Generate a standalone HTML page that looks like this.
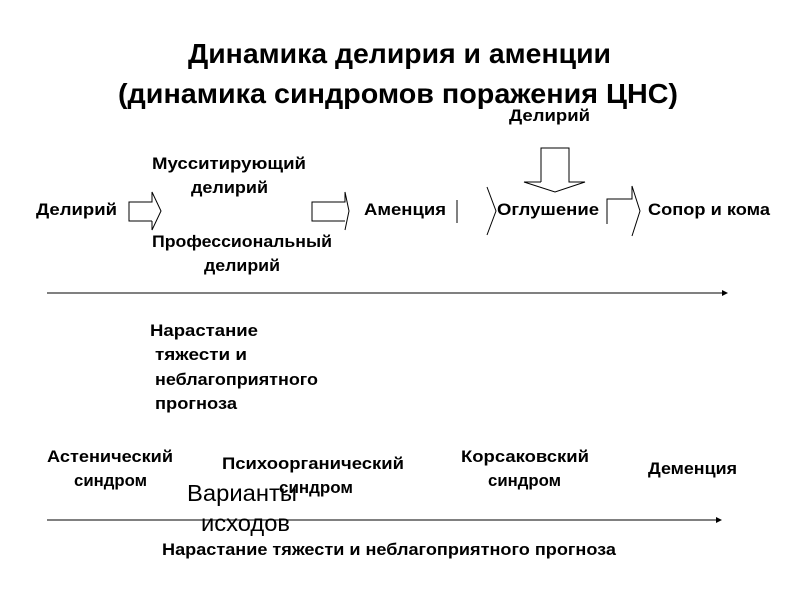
<!DOCTYPE html>
<html><head><meta charset="utf-8"><style>
html,body{margin:0;padding:0;background:#fff;}
svg{display:block;}
text{font-family:"Liberation Sans",sans-serif;font-weight:bold;fill:#000;}
.t{font-size:28px;}
.l{font-size:17px;}
.v{font-family:"Liberation Sans",sans-serif;font-weight:normal;font-size:23px;}
</style></head><body>
<svg width="800" height="600" viewBox="0 0 800 600">
<text class="t" x="188" y="63" textLength="423" lengthAdjust="spacingAndGlyphs">Динамика делирия и аменции</text>
<text class="t" x="118" y="103" textLength="560" lengthAdjust="spacingAndGlyphs">(динамика синдромов поражения ЦНС)</text>

<text class="l" x="509" y="121" textLength="81" lengthAdjust="spacingAndGlyphs">Делирий</text>
<text class="l" x="152" y="169" textLength="154" lengthAdjust="spacingAndGlyphs">Мусситирующий</text>
<text class="l" x="191" y="193" textLength="77" lengthAdjust="spacingAndGlyphs">делирий</text>
<text class="l" x="36" y="215" textLength="81" lengthAdjust="spacingAndGlyphs">Делирий</text>
<text class="l" x="364" y="215" textLength="82" lengthAdjust="spacingAndGlyphs">Аменция</text>
<text class="l" x="497" y="215" textLength="102" lengthAdjust="spacingAndGlyphs">Оглушение</text>
<text class="l" x="648" y="215" textLength="122" lengthAdjust="spacingAndGlyphs">Сопор и кома</text>
<text class="l" x="152" y="247" textLength="180" lengthAdjust="spacingAndGlyphs">Профессиональный</text>
<text class="l" x="204" y="271" textLength="76" lengthAdjust="spacingAndGlyphs">делирий</text>

<g fill="none" stroke="#000" stroke-width="1">
<polyline points="152,221 129,221 129,202 152,202 152,192 161,211 152,230 152,221"/>
<polyline points="345,221 312,221 312,202 345,202 345,192 349,211 345,230"/>
<line x1="457" y1="200" x2="457" y2="223"/>
<polyline points="487,187 496,211 487,235"/>
<polyline points="607,224 607,199 632,199 632,186 640,211 632,236"/>
<polyline points="541,182 541,148 569,148 569,182 585,182 555,192 524,182 541,182"/>
<line x1="47" y1="293" x2="722" y2="293"/>
<line x1="47" y1="520" x2="716" y2="520"/>
</g>
<polygon points="722,290 728,293 722,296" fill="#000"/>
<polygon points="716,517 722,520 716,523" fill="#000"/>

<text class="l" x="150" y="336" textLength="108" lengthAdjust="spacingAndGlyphs">Нарастание</text>
<text class="l" x="155" y="360" textLength="92" lengthAdjust="spacingAndGlyphs">тяжести и</text>
<text class="l" x="155" y="385" textLength="163" lengthAdjust="spacingAndGlyphs">неблагоприятного</text>
<text class="l" x="155" y="409" textLength="82" lengthAdjust="spacingAndGlyphs">прогноза</text>

<text class="l" x="47" y="462" textLength="126" lengthAdjust="spacingAndGlyphs">Астенический</text>
<text class="l" x="74" y="486" textLength="73" lengthAdjust="spacingAndGlyphs">синдром</text>
<text class="l" x="222" y="469" textLength="182" lengthAdjust="spacingAndGlyphs">Психоорганический</text>
<text class="l" x="279" y="493" textLength="74" lengthAdjust="spacingAndGlyphs">синдром</text>
<text class="l" x="461" y="462" textLength="128" lengthAdjust="spacingAndGlyphs">Корсаковский</text>
<text class="l" x="488" y="486" textLength="73" lengthAdjust="spacingAndGlyphs">синдром</text>
<text class="l" x="648" y="474" textLength="89" lengthAdjust="spacingAndGlyphs">Деменция</text>
<text class="v" x="187" y="501" textLength="110" lengthAdjust="spacingAndGlyphs">Варианты</text>
<text class="v" x="201" y="531" textLength="89" lengthAdjust="spacingAndGlyphs">исходов</text>
<text class="l" x="162" y="555" textLength="454" lengthAdjust="spacingAndGlyphs">Нарастание тяжести и неблагоприятного прогноза</text>
</svg>
</body></html>
